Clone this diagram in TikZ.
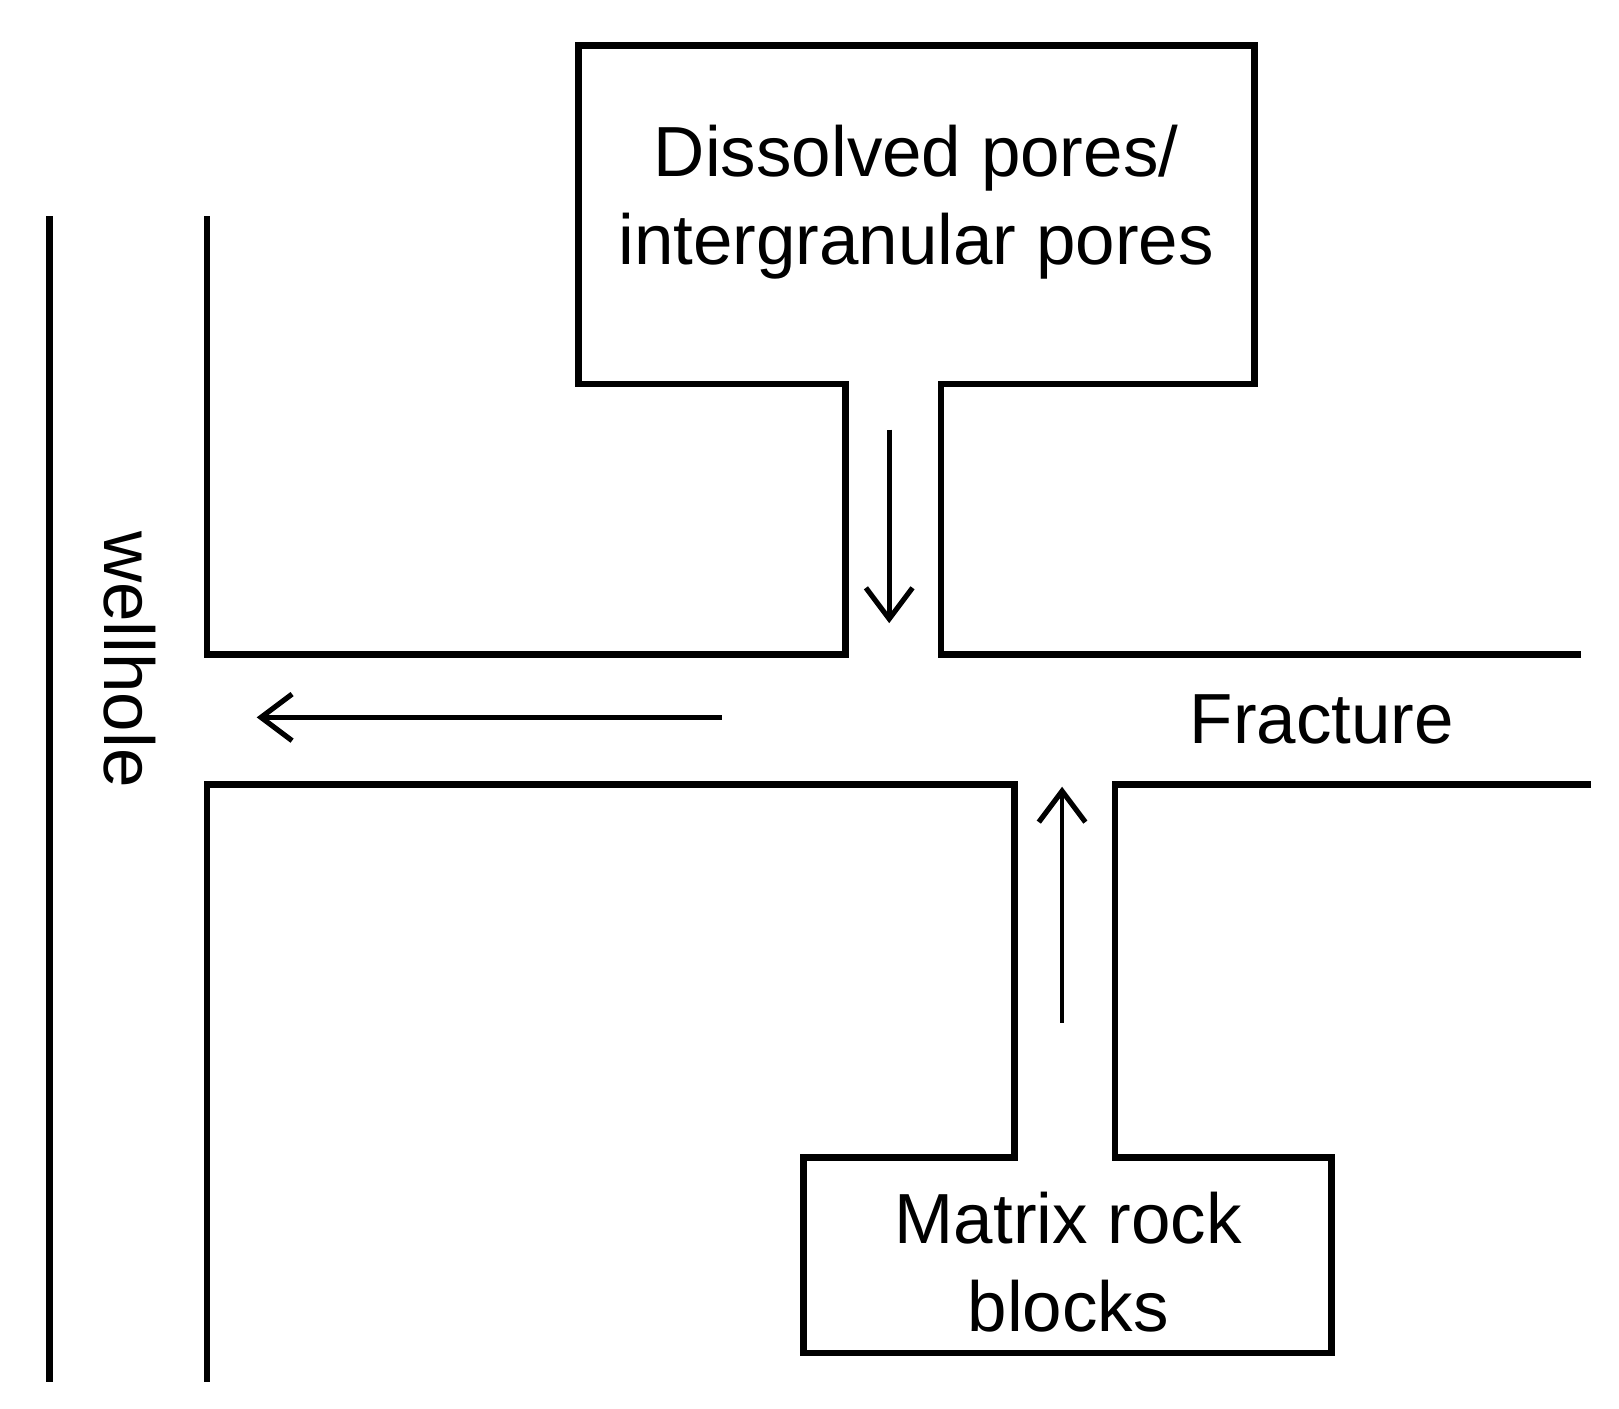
\documentclass[tikz,border=0pt]{standalone}
\usepackage{fontspec}
\setmainfont{Liberation Sans}
\usetikzlibrary{arrows.meta}
\begin{document}
\begin{tikzpicture}[x=0.1mm,y=-0.1mm,
  wall/.style={line width=0.65mm,line cap=rect},
  flow/.style={line width=0.45mm,->,>={Straight Barb[length=3mm,width=4.5mm,line width=0.5mm]}},
  lab/.style={font=\fontsize{19.5}{24.2}\selectfont,align=center,inner sep=0}]
\useasboundingbox (0,0) rectangle (1564,1361);
\draw[wall] (817,371) -- (559,371) -- (559,44) -- (1212,44) -- (1212,371) -- (909,371);
\draw[wall] (817,371) -- (817,632) -- (200,632) -- (200,212);
\draw[wall] (909,371) -- (909,632) -- (1524,632);
\draw[wall] (200,1332) -- (200,758) -- (980,758) -- (980,1118) -- (776,1118) -- (776,1307) -- (1286,1307) -- (1286,1118) -- (1077,1118) -- (1077,758) -- (1534,758);
\draw[wall] (48,212) -- (48,1332);
\coordinate (a1) at (859,415); \coordinate (a2) at (859,602);
\coordinate (b1) at (697,693); \coordinate (b2) at (248,693);
\coordinate (c1) at (1026,988); \coordinate (c2) at (1026,760);
\draw[flow] (a1) -- (a2);
\draw[flow] (b1) -- (b2);
\draw[flow] (c1) -- (c2);
\node[lab] (pores) at (885,195) {Dissolved pores/\\intergranular pores};
\node[lab] (frac) at (1277,695) {Fracture};
\node[lab] (matrix) at (1032,1219) {Matrix rock\\blocks};
\node[lab,rotate=-90] (well) at (125,637) {wellhole};
\end{tikzpicture}
\end{document}
